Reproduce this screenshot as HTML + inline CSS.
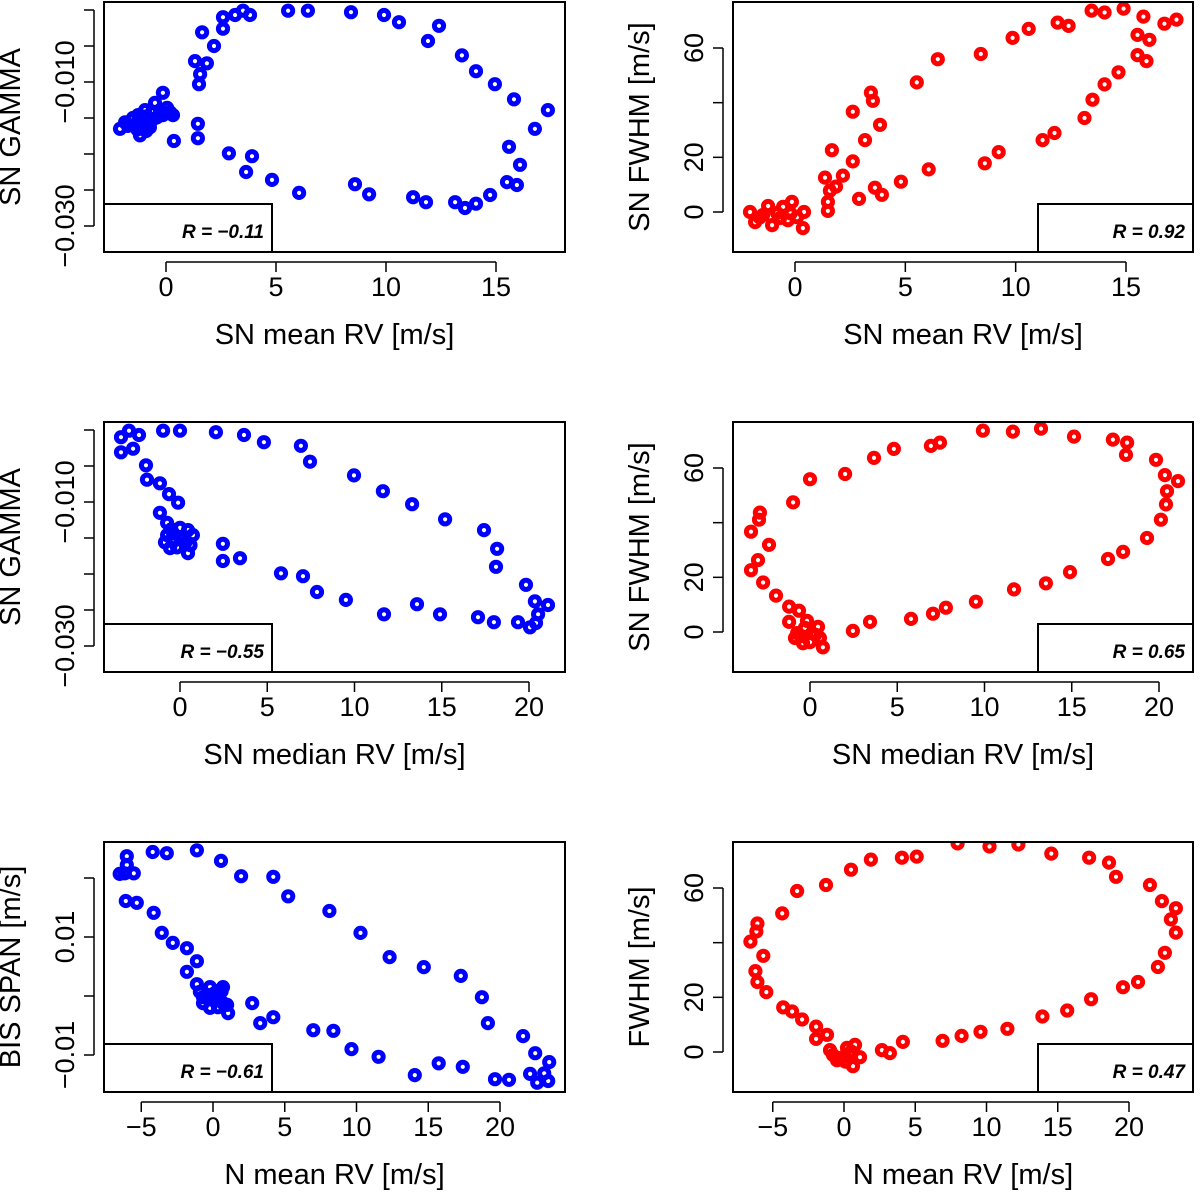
<!DOCTYPE html>
<html><head><meta charset="utf-8"><style>
html,body{margin:0;padding:0;background:#fff;}
svg{display:block;font-family:"Liberation Sans",Arial,sans-serif;}
</style></head><body>
<svg id="fig" width="1200" height="1192" viewBox="0 0 1200 1192" xmlns="http://www.w3.org/2000/svg"></svg>
<script>
// ---- Panel 1: SN mean RV vs SN GAMMA ----
const p1X=[-2.09,-1.86,-1.50,-1.18,-0.95,-0.50,-0.14,0.05,0.32,-1.50,-0.86,-0.41,-1.27,-0.14,0.36,-0.73,-1.73,-1.09,-0.64,-0.27,0.18,-1.0,-0.6,-0.2,-1.3,-0.9,1.45,1.45,1.50,1.55,1.32,1.86,2.18,1.64,2.59,2.59,3.14,3.50,3.82,5.55,6.45,8.41,9.91,10.59,12.41,11.91,13.45,14.09,14.95,15.82,17.36,16.77,15.59,16.09,15.50,15.95,14.73,14.09,13.59,13.14,11.82,11.23,9.23,8.59,6.05,4.82,3.64,3.91,2.86];
const p1Y=[-0.0165,-0.0156,-0.0150,-0.0174,-0.0139,-0.0129,-0.0115,-0.0136,-0.0146,-0.0160,-0.0156,-0.0149,-0.0146,-0.0146,-0.0182,-0.0163,-0.0161,-0.0153,-0.0142,-0.0139,-0.0142,-0.0148,-0.0152,-0.0141,-0.0166,-0.0168,-0.0158,-0.0178,-0.0103,-0.0089,-0.0071,-0.0074,-0.0050,-0.0031,-0.0026,-0.0010,-0.0007,-0.0001,-0.0007,-0.0001,-0.0001,-0.0003,-0.0007,-0.0017,-0.0022,-0.0043,-0.0063,-0.0085,-0.0103,-0.0124,-0.0139,-0.0165,-0.0190,-0.0215,-0.0239,-0.0243,-0.0257,-0.0269,-0.0275,-0.0267,-0.0267,-0.0260,-0.0256,-0.0242,-0.0254,-0.0236,-0.0225,-0.0203,-0.0199];
// ---- Panel 2: SN mean RV vs SN FWHM ----
const p2X=[-2.04,-1.81,-1.22,-1.04,-1.45,-0.81,-0.54,-0.14,-0.32,0.09,0.41,0.36,-0.68,-1.6,-0.2,1.49,1.49,1.58,1.86,1.36,2.17,2.62,1.67,3.17,3.85,2.62,3.44,3.53,5.52,6.47,8.42,9.86,10.59,11.90,12.40,13.44,14.03,14.89,15.79,16.74,17.29,15.52,16.06,15.52,15.93,14.66,14.03,13.48,13.12,11.76,11.22,9.23,8.60,6.06,4.80,3.62,3.94,2.90];
const p2Y=[0,-3.7,2.2,-4.8,-1.1,-0.4,1.9,3.7,-3.0,-1.9,0,-5.9,-2.2,-2.0,-0.5,0.4,3.7,7.8,9.3,12.6,13.3,18.5,22.6,26.3,31.9,36.7,43.7,40.7,47.4,55.9,57.8,63.7,67.0,69.3,68.1,73.7,73.0,74.4,71.5,68.9,70.4,64.8,63.0,57.4,55.2,51.1,46.7,41.1,34.4,28.9,26.3,21.9,17.8,15.6,11.1,8.9,6.3,4.8];
// ---- Panel 3: SN median RV vs SN GAMMA ----
const p3X=[-3.38,-2.92,-2.35,-3.38,-2.69,-0.97,0,2.06,3.67,4.81,6.93,7.45,9.97,11.63,13.30,15.19,17.42,18.17,18.11,19.83,20.34,21.09,20.52,20.40,20.06,19.37,17.99,17.08,14.90,13.58,11.69,9.51,7.85,7.05,5.79,3.44,2.46,2.46,-1.95,-1.89,-1.15,-0.63,-0.11,-1.15,-0.74,-0.74,-0.86,-0.57,0,0,0.46,0.74,0.46,-0.17,0.29,-0.40,-0.3,0.2,0.6,-0.5];
const p3Y=[-0.0010,-0.0001,-0.0007,-0.0031,-0.0026,-0.0001,-0.0001,-0.0003,-0.0007,-0.0017,-0.0022,-0.0044,-0.0063,-0.0085,-0.0103,-0.0124,-0.0139,-0.0165,-0.0190,-0.0215,-0.0238,-0.0243,-0.0256,-0.0268,-0.0274,-0.0267,-0.0267,-0.0260,-0.0256,-0.0242,-0.0256,-0.0236,-0.0225,-0.0203,-0.0199,-0.0178,-0.0182,-0.0158,-0.0049,-0.0069,-0.0074,-0.0089,-0.0101,-0.0115,-0.0129,-0.0146,-0.0156,-0.0164,-0.0136,-0.0150,-0.0139,-0.0146,-0.0171,-0.0163,-0.0157,-0.0143,-0.0153,-0.0148,-0.0160,-0.0138];
// ---- Panel 4: SN median RV vs SN FWHM ----
const p4X=[9.91,11.63,13.24,15.13,17.36,18.17,18.11,19.83,20.34,21.09,20.46,20.40,20.11,19.31,17.94,17.08,14.90,13.52,11.69,9.51,7.79,7.05,5.79,3.44,2.46,7.45,6.93,4.81,3.67,2.01,0,-0.97,-2.87,-2.92,-3.38,-2.35,-2.98,-3.38,-2.69,-1.95,-1.20,-0.63,-0.17,-1.20,-0.74,-0.40,0.11,0.46,0.74,0.57,-0.86,0,-0.29,-0.5,0.3];
const p4Y=[73.7,73.3,74.4,71.5,70.4,69.3,64.8,63.0,57.4,55.2,51.5,46.7,41.1,34.4,29.3,26.7,21.9,17.8,15.6,11.1,8.9,6.7,4.8,3.7,0.4,69.3,68.1,67.0,63.7,57.8,55.9,47.4,43.7,41.1,36.7,31.9,26.3,22.6,18.1,13.3,9.3,7.8,4.1,3.7,-0.4,-4.1,-0.4,1.9,-5.6,-2.2,-2.2,-3.7,1.5,-1.5,-1.0];
// ---- Panel 5: N mean RV vs BIS SPAN ----
const p5X=[-6.01,-6.01,-6.50,-6.15,-5.52,-4.20,-3.22,-1.12,0.56,1.96,4.20,5.24,8.11,10.28,12.31,14.69,17.27,18.74,19.16,21.61,22.45,23.43,23.08,22.10,23.36,22.59,20.63,19.65,17.41,15.73,14.06,11.54,9.65,8.39,6.99,4.20,3.29,2.73,1.05,-6.08,-5.31,-4.13,-3.57,-2.80,-1.82,-1.12,-1.82,-1.12,-0.21,0.70,-0.70,0,0.70,-0.70,-0.21,0.35,0.98,-0.91,0.14,-0.4,0.4,0.1,-0.3,0.6];
const p5Y=[0.0237,0.0222,0.0207,0.0208,0.0208,0.0244,0.0242,0.0247,0.0229,0.0203,0.0202,0.0169,0.0144,0.0107,0.0066,0.0049,0.0034,-0.0002,-0.0046,-0.0068,-0.0097,-0.0112,-0.0131,-0.0132,-0.0144,-0.0147,-0.0142,-0.0141,-0.0120,-0.0114,-0.0134,-0.0103,-0.0090,-0.0059,-0.0058,-0.0036,-0.0046,-0.0012,-0.0029,0.0161,0.0158,0.0141,0.0107,0.0090,0.0081,0.0059,0.0041,0.0020,0.0015,0.0015,-0.0002,-0.0007,-0.0012,-0.0012,-0.0020,-0.0019,-0.0015,0.0007,0.0005,0.0002,0.0003,-0.0003,-0.0005,0.0008];
// ---- Panel 6: N mean RV vs FWHM ----
const p6X=[7.97,10.21,12.24,14.55,17.20,18.60,19.09,21.47,22.31,23.29,22.94,23.29,22.52,22.03,20.63,19.58,17.34,15.66,13.92,11.47,9.58,8.25,6.92,4.13,3.22,2.66,5.10,4.06,1.89,0.49,-1.26,-3.29,-4.34,-6.08,-6.15,-6.57,-5.66,-6.22,-6.08,-5.45,-4.27,-3.64,-2.94,-1.96,-1.96,-1.19,-0.98,-0.49,0.21,0.77,1.12,0.63,-0.07,-0.77,0.42,-0.3,0.1,0.5];
const p6Y=[76.3,75.2,75.9,72.6,71.1,69.3,64.1,61.1,55.2,52.6,48.5,43.7,36.3,31.1,25.6,23.7,19.3,15.2,13.0,8.5,7.4,5.9,4.1,3.7,-0.4,0.7,71.5,71.1,70.4,66.7,61.1,58.9,50.7,47.0,44.1,40.4,35.2,29.6,25.6,21.9,16.3,14.8,11.9,9.3,4.8,6.3,0.7,-3.0,1.5,2.6,-1.9,-5.2,-1.9,-1.1,-0.4,-2.5,-3.5,0.2];
// ---- axis ticks & labels ----
const xTicksA=[0,5,10,15];
const xTicksB=[0,5,10,15,20];
const xTicksC=[-5,0,5,10,15,20];
const gammaTicks=[0,-0.005,-0.010,-0.015,-0.020,-0.025,-0.030];
const gammaLabelVals=[-0.010,-0.030];
const gammaLabels=["\u22120.010","\u22120.030"];
const fwhmTicks=[0,20,40,60];
const fwhmLabelVals=[0,20,60];
const fwhmLabels=["0","20","60"];
const bisTicks=[0.02,0.01,0,-0.01];
const bisLabelVals=[0.01,-0.01];
const bisLabels=["0.01","\u22120.01"];
const rValues=["R = \u22120.11","R = 0.92","R = \u22120.55","R = 0.65","R = \u22120.61","R = 0.47"];

const NS="http://www.w3.org/2000/svg";
const svg=document.getElementById('fig');
function mk(tag,attrs,parent){const e=document.createElementNS(NS,tag);for(const k in attrs)e.setAttribute(k,attrs[k]);(parent||svg).appendChild(e);return e;}
function lin(d0,d1,r0,r1){return v=>r0+(v-d0)*(r1-r0)/(d1-d0);}
function fmtX(v){return v<0?"\u2212"+(-v):String(v);}

const panels=[
 {xs:p1X,ys:p1Y,col:"#0000ff",bx:104,by:2,bw:461,bh:250,sx:lin(0,15,166,496),sy:lin(-0.010,-0.030,82,226),xt:xTicksA,yt:gammaTicks,ylv:gammaLabelVals,yl:gammaLabels,xtitle:"SN mean RV [m/s]",ytitle:"SN GAMMA",left:true,r:rValues[0],name:"sn-mean-vs-gamma"},
 {xs:p2X,ys:p2Y,col:"#ff0000",bx:733,by:2,bw:460,bh:250,sx:lin(0,15,795,1126),sy:lin(0,60,212,48),xt:xTicksA,yt:fwhmTicks,ylv:fwhmLabelVals,yl:fwhmLabels,xtitle:"SN mean RV [m/s]",ytitle:"SN FWHM [m/s]",left:false,r:rValues[1],name:"sn-mean-vs-fwhm"},
 {xs:p3X,ys:p3Y,col:"#0000ff",bx:104,by:422,bw:461,bh:250,sx:lin(0,20,180,529),sy:lin(-0.010,-0.030,502,646),xt:xTicksB,yt:gammaTicks,ylv:gammaLabelVals,yl:gammaLabels,xtitle:"SN median RV [m/s]",ytitle:"SN GAMMA",left:true,r:rValues[2],name:"sn-median-vs-gamma"},
 {xs:p4X,ys:p4Y,col:"#ff0000",bx:733,by:422,bw:460,bh:250,sx:lin(0,20,810,1159),sy:lin(0,60,632,468),xt:xTicksB,yt:fwhmTicks,ylv:fwhmLabelVals,yl:fwhmLabels,xtitle:"SN median RV [m/s]",ytitle:"SN FWHM [m/s]",left:false,r:rValues[3],name:"sn-median-vs-fwhm"},
 {xs:p5X,ys:p5Y,col:"#0000ff",bx:104,by:842,bw:461,bh:250,sx:lin(0,20,213,500),sy:lin(0.01,-0.01,937,1055),xt:xTicksC,yt:bisTicks,ylv:bisLabelVals,yl:bisLabels,xtitle:"N mean RV [m/s]",ytitle:"BIS SPAN [m/s]",left:true,r:rValues[4],name:"n-mean-vs-bis"},
 {xs:p6X,ys:p6Y,col:"#ff0000",bx:733,by:842,bw:460,bh:250,sx:lin(0,20,844,1129),sy:lin(0,60,1052,888),xt:xTicksC,yt:fwhmTicks,ylv:fwhmLabelVals,yl:fwhmLabels,xtitle:"N mean RV [m/s]",ytitle:"FWHM [m/s]",left:false,r:rValues[5],name:"n-mean-vs-fwhm"}
];

panels.forEach(p=>{
 const g=mk('g',{});
 
 
 const clip=mk('clipPath',{id:'c-'+p.name},g);
 mk('rect',{x:p.bx,y:p.by,width:p.bw,height:p.bh},clip);
 const pts=mk('g',{'clip-path':'url(#c-'+p.name+')'},g);
 
 
 for(let i=0;i<p.xs.length;i++){
  const c=mk('circle',{cx:p.sx(p.xs[i]).toFixed(1),cy:p.sy(p.ys[i]).toFixed(1),r:4.6,fill:'none',stroke:p.col,'stroke-width':5},pts);
  
  
 }
 const lg=mk('g',{},g);
 
 
 const lx=p.left?p.bx:1038, lw=p.left?168:p.bx+p.bw-1038;
 mk('rect',{x:lx,y:p.by+202,width:lw,height:p.bh-202,fill:'#fff',stroke:'#000','stroke-width':2},lg);
 const lt=mk('text',{x:lx+lw-8,y:p.by+236,'text-anchor':'end','font-size':19,'font-weight':'bold','font-style':'italic'},lg);
 lt.textContent=p.r;
 const b=mk('rect',{x:p.bx,y:p.by,width:p.bw,height:p.bh,fill:'none',stroke:'#000','stroke-width':2},g);
 
 
 const xa=mk('g',{},g);
 
 
 const yb=p.by+p.bh;
 const x0=p.sx(p.xt[0]),x1=p.sx(p.xt[p.xt.length-1]);
 mk('line',{x1:x0,y1:yb+10,x2:x1,y2:yb+10,stroke:'#000','stroke-width':1.5},xa);
 p.xt.forEach(v=>{
  const x=p.sx(v);
  mk('line',{x1:x,y1:yb+10,x2:x,y2:yb+20,stroke:'#000','stroke-width':1.5},xa);
  const t=mk('text',{x:x,y:yb+44,'text-anchor':'middle','font-size':27},xa);
  t.textContent=fmtX(v);
 });
 const xt=mk('text',{x:p.bx+p.bw/2,y:yb+92,'text-anchor':'middle','font-size':29},g);
 xt.textContent=p.xtitle;
 
 
 const ya=mk('g',{},g);
 
 
 const ax=p.bx-10;
 const yv=p.yt.map(p.sy);
 mk('line',{x1:ax,y1:Math.min(...yv),x2:ax,y2:Math.max(...yv),stroke:'#000','stroke-width':1.5},ya);
 yv.forEach(y=>mk('line',{x1:ax-10,y1:y,x2:ax,y2:y,stroke:'#000','stroke-width':1.5},ya));
 p.ylv.forEach((v,i)=>{
  const y=p.sy(v), tx=p.bx-30;
  const t=mk('text',{x:tx,y:y,'text-anchor':'middle','font-size':27,transform:'rotate(-90 '+tx+' '+y+')'},ya);
  t.textContent=p.yl[i];
 });
 const tyx=p.bx-84, tyy=p.by+p.bh/2+(p.left?0:0);
 const yt=mk('text',{x:tyx,y:tyy,'text-anchor':'middle','font-size':29,transform:'rotate(-90 '+tyx+' '+tyy+')'},g);
 yt.textContent=p.ytitle;
 
 
});
</script>
</body></html>
